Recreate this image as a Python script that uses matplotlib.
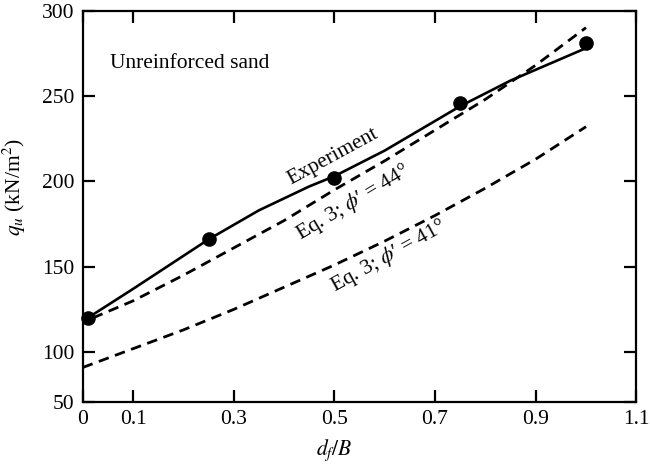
import matplotlib
matplotlib.use("Agg")
import matplotlib.pyplot as plt

plt.rcParams['font.family'] = ['Liberation Serif', 'DejaVu Serif']
plt.rcParams['mathtext.fontset'] = 'stix'

# Experimental points
exp_x = [0.01, 0.25, 0.5, 0.75, 1.0]
exp_y = [120, 166, 202, 246, 281]

# Experiment curve
exp_curve_x = [0.01, 0.1, 0.25, 0.35, 0.45, 0.5, 0.6, 0.75, 0.85, 1.0]
exp_curve_y = [120, 137, 166, 183, 197, 203, 218, 244, 259, 278]

# Eq. 3, phi' = 44
eq44_x = [0.02, 0.1, 0.2, 0.3, 0.4, 0.5, 0.6, 0.7, 0.8, 0.9, 1.0]
eq44_y = [120, 130, 145, 161, 177, 195, 212, 230, 248, 268, 290]

# Eq. 3, phi' = 41
eq41_x = [0.0, 0.1, 0.2, 0.3, 0.4, 0.5, 0.6, 0.7, 0.8, 0.9, 1.0]
eq41_y = [91, 102, 113, 125, 138, 151, 165, 180, 196, 213, 232]

x_ticks = [0, 0.1, 0.3, 0.5, 0.7, 0.9, 1.1]
x_tick_labels = ["0", "0.1", "0.3", "0.5", "0.7", "0.9", "1.1"]
y_ticks = [70.8, 100, 150, 200, 250, 300]
y_tick_labels = ["50", "100", "150", "200", "250", "300"]

fig = plt.figure(figsize=(6.5, 4.65), dpi=100)
ax = fig.add_axes([0.1272, 0.1355, 0.8518, 0.8418])

ax.plot(exp_curve_x, exp_curve_y, color='black', lw=1.9, solid_joinstyle='round')
ax.plot(exp_x, exp_y, 'o', color='black', ms=9.5, clip_on=False)
l44, = ax.plot(eq44_x, eq44_y, color='black', lw=2.0)
l44.set_dashes([3.8, 2.4])
l41, = ax.plot(eq41_x, eq41_y, color='black', lw=2.0)
l41.set_dashes([3.8, 2.4])

ax.set_xlim(0, 1.1)
ax.set_ylim(70.8, 300)
ax.set_xticks(x_ticks)
ax.set_xticklabels(x_tick_labels)
ax.set_yticks(y_ticks)
ax.set_yticklabels(y_tick_labels)

ax.tick_params(direction='in', length=8.5, width=1.6, top=True, right=True,
               labelsize=15.5, pad=6)
for s in ax.spines.values():
    s.set_linewidth(1.6)

ax.set_xlabel(r"$d_f/B$", fontsize=15.5)
ax.xaxis.set_label_coords(0.4545, -0.09)
ax.set_ylabel(r"$q_u$ (kN/m$^2$)", fontsize=15.5)
ax.yaxis.set_label_coords(-0.098, 0.55)

ax.text(0.054, 269, "Unreinforced sand", fontsize=15.5, ha='left', va='center')
ax.text(0.498, 214.5, "Experiment", fontsize=15.5, ha='center', va='center', rotation=28.5)
ax.text(0.538, 187.6, "Eq. 3; $\\phi$\u2032 = 44°", fontsize=15.5, ha='center', va='center', rotation=31)
ax.text(0.607, 155.9, "Eq. 3; $\\phi$\u2032 = 41°", fontsize=15.5, ha='center', va='center', rotation=29)

fig.savefig("out.png", dpi=100)
